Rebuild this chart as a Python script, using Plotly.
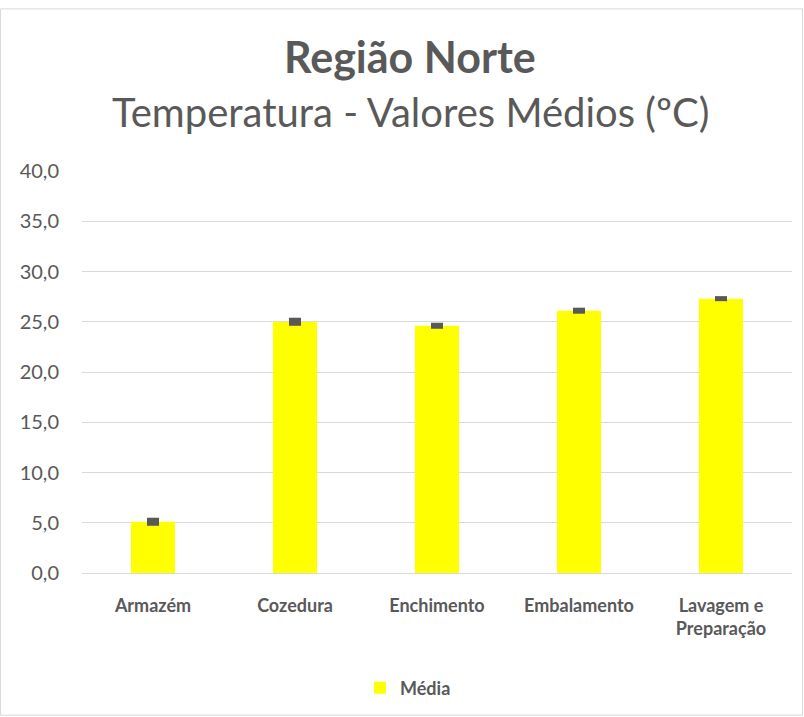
import plotly.graph_objects as go

categories = ["Armazém", "Cozedura", "Enchimento", "Embalamento", "Lavagem e<br>Preparação"]
media = [5.1, 25.0, 24.6, 26.1, 27.3]
erro = [0.4, 0.4, 0.3, 0.3, 0.25]
y_ticks = [0, 5, 10, 15, 20, 25, 30, 35, 40]

FONT = "Lato"
GRAY = "#595959"

L, R, T, B = 82, 12, 171, 143
W, H = 804, 717
pw, ph = W - L - R, H - T - B

def px(x):
    return (x - L) / pw

def py(y):
    return (H - B - y) / ph

fig = go.Figure()
fig.add_trace(go.Bar(
    x=categories, y=media, name="Média",
    marker=dict(color="#FFFF00", line=dict(width=0)),
    error_y=dict(type="data", array=erro, visible=True, color=GRAY, thickness=12, width=0),
))

fig.update_layout(
    width=W, height=H,
    margin=dict(l=L, r=R, t=T, b=B),
    paper_bgcolor="white", plot_bgcolor="white",
    bargap=0.69,
    separators=",.",
    showlegend=True,
    legend=dict(orientation="h", x=px(408), xanchor="center", y=py(688), yanchor="middle",
                font=dict(family=FONT, size=18, color=GRAY, weight="bold"), itemwidth=30),
    font=dict(family=FONT, color=GRAY),
    xaxis=dict(showgrid=False, showline=False, ticks="",
               tickfont=dict(family=FONT, size=18, color=GRAY, weight="bold"), ticklabelstandoff=20),
    yaxis=dict(range=[0, 40], tickvals=y_ticks, tickformat=".1f", showgrid=True, gridcolor="#D9D9D9",
               gridwidth=1, zeroline=True, zerolinecolor="#D9D9D9", zerolinewidth=1, showline=False,
               ticks="", tickfont=dict(family=FONT, size=20, color=GRAY), ticklabelstandoff=22),
    shapes=[dict(type="rect", xref="paper", yref="paper",
                 x0=px(0.5), x1=px(802.5), y0=py(716.5), y1=py(8.5),
                 line=dict(color="#D9D9D9", width=1), fillcolor="rgba(0,0,0,0)", layer="below")],
    annotations=[
        dict(text="<b>Região Norte</b>", xref="paper", yref="paper", x=px(410), y=py(56),
             xanchor="center", yanchor="middle", showarrow=False,
             font=dict(family=FONT, size=43, color=GRAY)),
        dict(text="Temperatura - Valores Médios (ºC)", xref="paper", yref="paper", x=px(410), y=py(112),
             xanchor="center", yanchor="middle", showarrow=False,
             font=dict(family=FONT, size=40, color=GRAY)),
    ],
)

fig.write_html("out.html", config={"displayModeBar": False},
               post_script="document.body.style.margin='0';document.body.style.overflow='hidden';")
